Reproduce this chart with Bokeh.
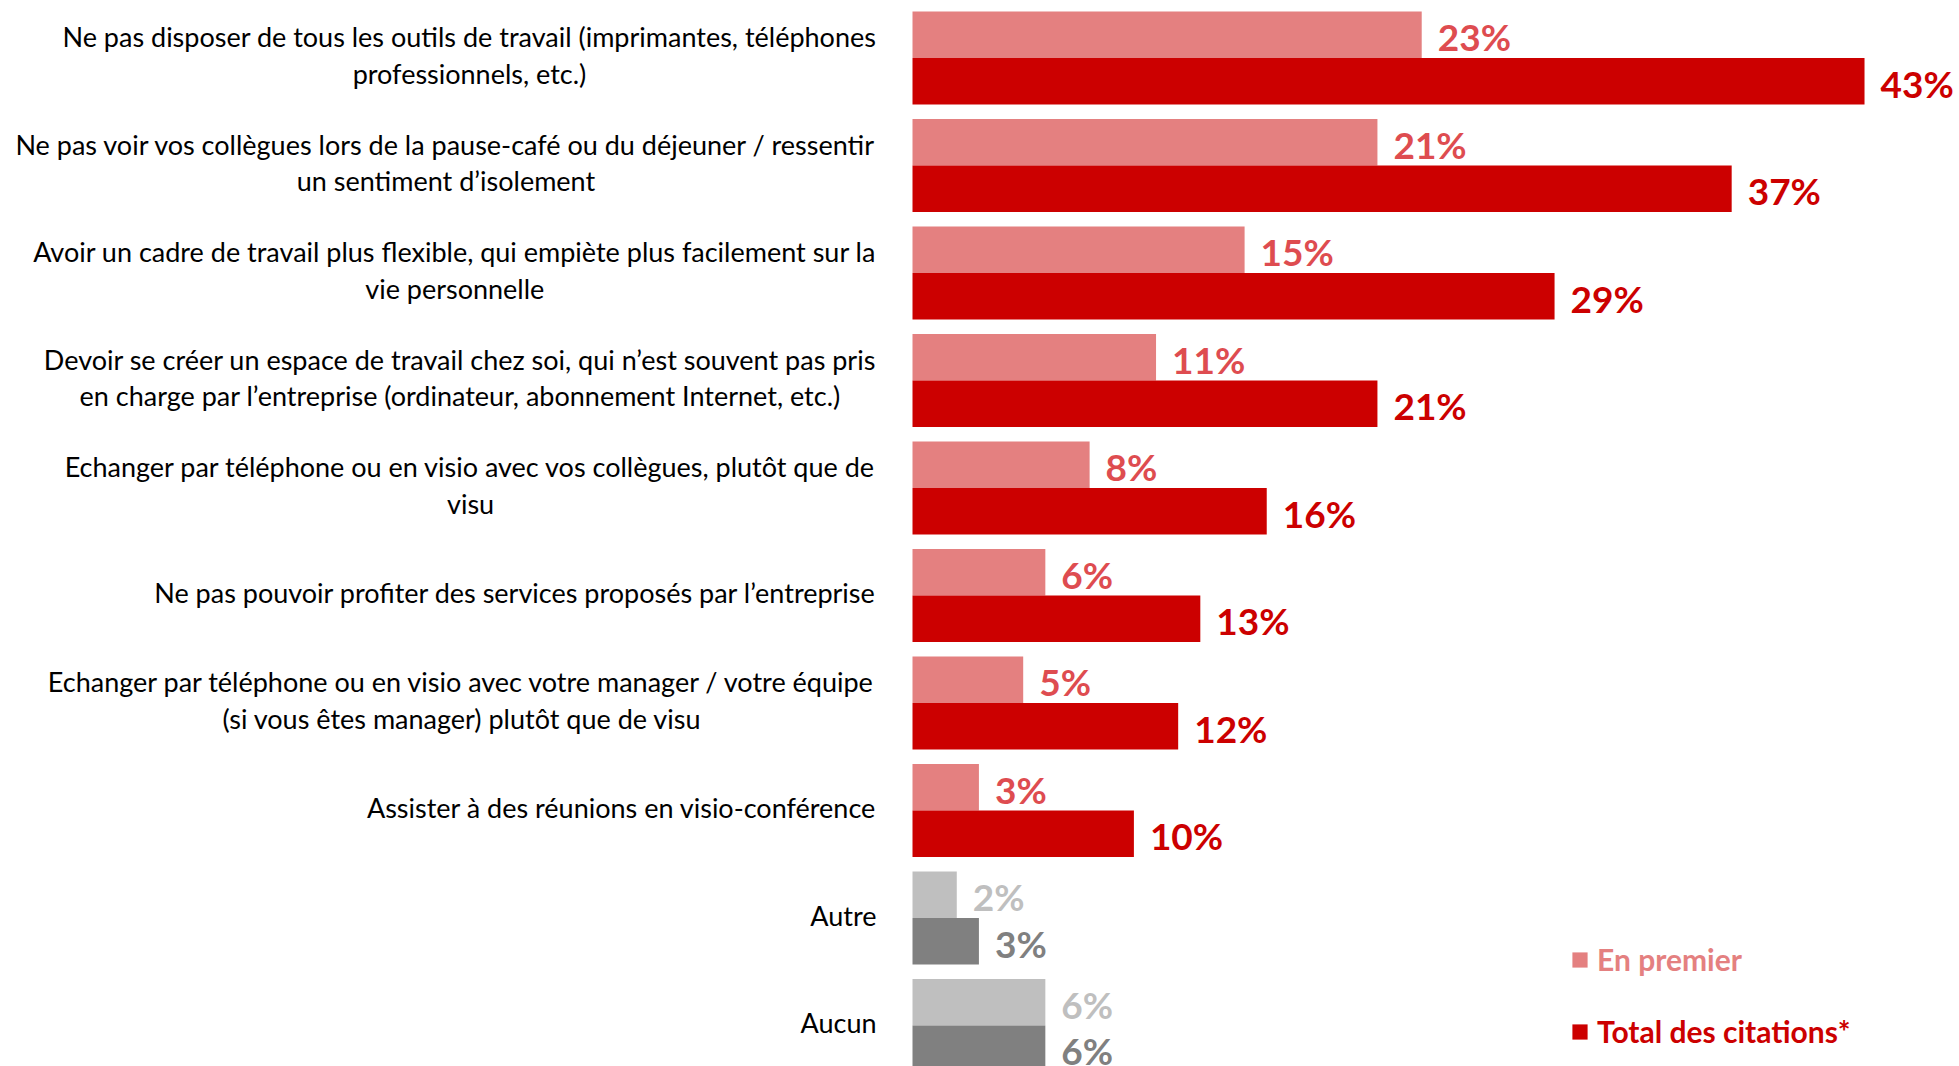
from bokeh.plotting import figure
from bokeh.models import ColumnDataSource, Range1d, Legend, LegendItem
from bokeh.core.properties import value
from bokeh.embed import file_html
from bokeh.resources import INLINE

# ---------------- data ----------------
categories = [
    "Ne pas disposer de tous les outils de travail (imprimantes, téléphones\nprofessionnels, etc.)",
    "Ne pas voir vos collègues lors de la pause-café ou du déjeuner / ressentir\nun sentiment d’isolement",
    "Avoir un cadre de travail plus flexible, qui empiète plus facilement sur la\nvie personnelle",
    "Devoir se créer un espace de travail chez soi, qui n’est souvent pas pris\nen charge par l’entreprise (ordinateur, abonnement Internet, etc.)",
    "Echanger par téléphone ou en visio avec vos collègues, plutôt que de\nvisu",
    "Ne pas pouvoir profiter des services proposés par l’entreprise",
    "Echanger par téléphone ou en visio avec votre manager / votre équipe\n(si vous êtes manager) plutôt que de visu",
    "Assister à des réunions en visio-conférence",
    "Autre",
    "Aucun",
]
en_premier = [23, 21, 15, 11, 8, 6, 5, 3, 2, 6]
total_citations = [43, 37, 29, 21, 16, 13, 12, 10, 3, 6]
grey_categories = ["Autre", "Aucun"]
series_names = ["En premier", "Total des citations*"]

# ---------------- styles / layout ----------------
RED_LIGHT = "#E48080"
RED_LIGHT_TXT = "#DE4C50"
RED_DARK = "#CC0000"
GREY_LIGHT = "#BFBFBF"
GREY_DARK = "#808080"
FONT = "Lato"

W, H = 1959, 1066
PX_PER_PCT = 22.14
ZERO_PX = 912
GROUP_PX = 107.5
FIRST_CENTER_PX = 57.5
BAR_PX = 46.5

x_range = Range1d(-ZERO_PX / PX_PER_PCT, (W - ZERO_PX) / PX_PER_PCT)
y_range = Range1d((H - FIRST_CENTER_PX) / GROUP_PX, -FIRST_CENTER_PX / GROUP_PX)
bar_h = BAR_PX / GROUP_PX

n = len(categories)
ys = list(range(n))
is_grey = [c in grey_categories for c in categories]

src = ColumnDataSource(dict(
    cat=categories,
    y=ys,
    y_light=[y - bar_h / 2 for y in ys],
    y_dark=[y + bar_h / 2 for y in ys],
    premier=en_premier,
    total=total_citations,
    lab_premier=[f"{v}%" for v in en_premier],
    lab_total=[f"{v}%" for v in total_citations],
    c_light=[GREY_LIGHT if g else RED_LIGHT for g in is_grey],
    c_dark=[GREY_DARK if g else RED_DARK for g in is_grey],
    t_light=[GREY_LIGHT if g else RED_LIGHT_TXT for g in is_grey],
    t_dark=[GREY_DARK if g else RED_DARK for g in is_grey],
))

p = figure(width=W, height=H, x_range=x_range, y_range=y_range,
           output_backend="svg", toolbar_location=None,
           x_axis_location=None, y_axis_location=None,
           min_border=0, outline_line_color=None,
           background_fill_color="white", border_fill_color="white")
p.grid.visible = False

r_light = p.hbar(y="y_light", left=0, right="premier", height=bar_h,
                 fill_color="c_light", line_color=None, source=src)
r_dark = p.hbar(y="y_dark", left=0, right="total", height=bar_h,
                fill_color="c_dark", line_color=None, source=src)

p.text(x="premier", y="y_light", text="lab_premier", source=src,
       x_offset=16, y_offset=2, text_align="left", text_baseline="middle",
       text_font=value(FONT), text_font_style="bold", text_font_size="37px",
       text_color="t_light")
p.text(x="total", y="y_dark", text="lab_total", source=src,
       x_offset=16, y_offset=2, text_align="left", text_baseline="middle",
       text_font=value(FONT), text_font_style="bold", text_font_size="37px",
       text_color="t_dark")

p.text(x=0, y="y", text="cat", source=src,
       x_offset=-36, y_offset=-3, anchor="center_right",
       text_align="center", text_baseline="middle", text_line_height=1.1,
       text_font=value(FONT), text_font_size="27px", text_color="#000000")

leg1 = Legend(items=[LegendItem(label=series_names[0], renderers=[r_light], index=0)],
              location=(1570, 89), orientation="vertical",
              glyph_width=19, glyph_height=19, label_standoff=8,
              padding=0, margin=0, border_line_color=None,
              background_fill_alpha=0,
              label_text_font=FONT, label_text_font_style="bold",
              label_text_font_size="30px", label_text_color=RED_LIGHT)
leg2 = Legend(items=[LegendItem(label=series_names[1], renderers=[r_dark], index=0)],
              location=(1570, 17), orientation="vertical",
              glyph_width=19, glyph_height=19, label_standoff=8,
              padding=0, margin=0, border_line_color=None,
              background_fill_alpha=0,
              label_text_font=FONT, label_text_font_style="bold",
              label_text_font_size="30px", label_text_color=RED_DARK)
p.add_layout(leg1, "center")
p.add_layout(leg2, "center")

open("out.html", "w").write(file_html(p, INLINE))
